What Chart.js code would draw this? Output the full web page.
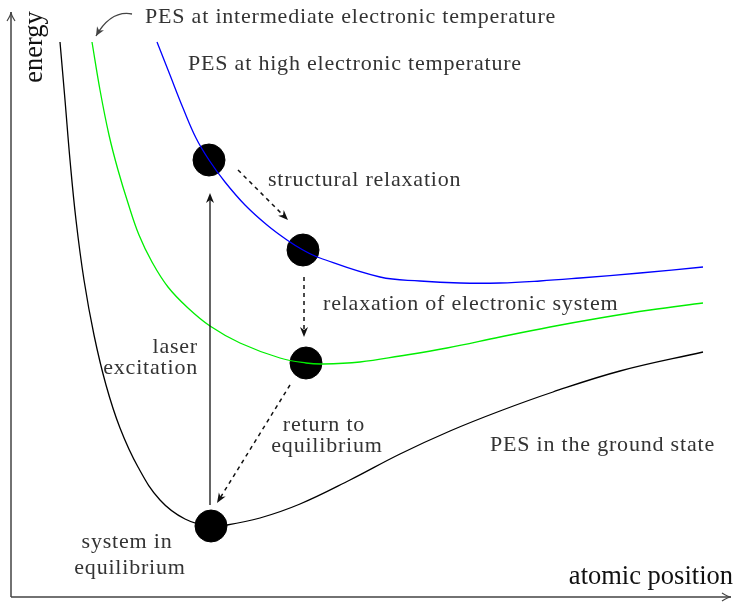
<!DOCTYPE html>
<html>
<head>
<meta charset="utf-8">
<script src="https://cdn.jsdelivr.net/npm/chart.js@4"></script>
<style>
  html, body { margin: 0; padding: 0; background: #fff; overflow: hidden; }
  canvas { display: block; }
</style>
</head>
<body>
<canvas id="pes" width="737" height="602"></canvas>
<script>
'use strict';

// ── Data (atomic position, energy) in arbitrary units ─────
const groundX = [49, 54, 59, 65, 73, 83, 95, 109, 127, 149, 174, 200, 216, 249, 289, 339, 389, 439, 489, 542, 609, 692];
const groundE = [555, 497, 437, 377, 317, 262, 212, 169, 130, 97, 78, 71, 72, 79, 93, 117, 143, 166, 186, 205, 226, 245];

const midX = [81, 89, 98, 107, 117, 128, 141, 157, 177, 199, 229, 269, 295, 312, 349, 389, 436, 489, 539, 589, 639, 692];
const midE = [555, 507, 462, 427, 394, 362, 335, 310, 289, 271, 254, 239, 234, 233, 235, 241, 249, 260, 270, 279, 287, 294];

const highX = [146, 159, 172, 185, 198, 214, 234, 256, 276, 292, 309, 369, 409, 449, 489, 529, 569, 629, 692];
const highE = [555, 522, 489, 459, 437, 415, 392, 372, 357, 347, 339, 320, 316, 314, 314, 316, 319, 324, 330];

// system states (black dots)
const stateX = [198, 292, 295, 200];
const stateE = [437, 347, 234, 71];

// transitions: [x0, e0, x1, e1, dashed]
const transitions = [
    [199, 92, 199, 404, false],   // laser excitation
    [227, 427, 277, 377, true],   // structural relaxation
    [293, 320, 293, 260, true],   // relaxation of electronic system
    [279, 212, 206, 94, true],    // return to equilibrium
];

// labels: [text, x, e, align]
const labels = [
    ['PES at intermediate electronic temperature', 134, 580, 'left'],
    ['PES at high electronic temperature', 177, 533, 'left'],
    ['structural relaxation', 257, 417, 'left'],
    ['relaxation of electronic system', 312, 293, 'left'],
    ['laser', 187, 250, 'right'],
    ['excitation', 187, 229, 'right'],
    ['return to', 313, 172, 'center'],
    ['equilibrium', 316, 151, 'center'],
    ['PES in the ground state', 479, 152, 'left'],
    ['system in', 116, 55, 'center'],
    ['equilibrium', 119, 29, 'center'],
];

const X_MAX = 720, E_MAX = 585;
const TEXT = '#333';
const LABEL_FONT = "22px 'Liberation Serif', serif";

const toXY = (xs, ys) => xs.map((x, i) => ({ x, y: ys[i] }));

// ── Arrows, axes and text plugin ──────────────────────────
function arrowHead(ctx, x0, y0, x1, y1, len, wid) {
    const a = Math.atan2(y1 - y0, x1 - x0);
    ctx.beginPath();
    ctx.moveTo(x1, y1);
    ctx.lineTo(x1 - len * Math.cos(a) + wid * Math.sin(a), y1 - len * Math.sin(a) - wid * Math.cos(a));
    ctx.lineTo(x1 - len * 0.7 * Math.cos(a), y1 - len * 0.7 * Math.sin(a));
    ctx.lineTo(x1 - len * Math.cos(a) - wid * Math.sin(a), y1 - len * Math.sin(a) + wid * Math.cos(a));
    ctx.closePath();
    ctx.fill();
}

function openHead(ctx, x1, y1, ang, len, wid) {
    ctx.beginPath();
    ctx.moveTo(x1 - len * Math.cos(ang) + wid * Math.sin(ang), y1 - len * Math.sin(ang) - wid * Math.cos(ang));
    ctx.quadraticCurveTo(x1 - len * 0.3 * Math.cos(ang), y1 - len * 0.3 * Math.sin(ang), x1, y1);
    ctx.quadraticCurveTo(x1 - len * 0.3 * Math.cos(ang), y1 - len * 0.3 * Math.sin(ang),
        x1 - len * Math.cos(ang) - wid * Math.sin(ang), y1 - len * Math.sin(ang) + wid * Math.cos(ang));
    ctx.stroke();
}

const sketchPlugin = {
    id: 'sketch',
    afterDatasetsDraw(chart) {
        const { ctx, chartArea: ca, scales: { x, y } } = chart;
        ctx.save();

        // axes with open arrowheads
        ctx.strokeStyle = '#444';
        ctx.lineWidth = 1.5;
        ctx.beginPath();
        ctx.moveTo(ca.left, ca.bottom);
        ctx.lineTo(ca.right, ca.bottom);
        ctx.moveTo(ca.left, ca.bottom);
        ctx.lineTo(ca.left, ca.top);
        ctx.stroke();
        ctx.lineWidth = 1.2;
        openHead(ctx, ca.right, ca.bottom, 0, 9, 4);
        openHead(ctx, ca.left, ca.top, -Math.PI / 2, 9, 4);

        // transitions
        ctx.strokeStyle = '#111';
        ctx.fillStyle = '#111';
        transitions.forEach(([x0, e0, x1, e1, dashed]) => {
            const px0 = x.getPixelForValue(x0), py0 = y.getPixelForValue(e0);
            const px1 = x.getPixelForValue(x1), py1 = y.getPixelForValue(e1);
            const a = Math.atan2(py1 - py0, px1 - px0);
            ctx.lineWidth = dashed ? 1.5 : 1.3;
            ctx.setLineDash(dashed ? [4, 4] : []);
            ctx.beginPath();
            ctx.moveTo(px0, py0);
            ctx.lineTo(px1 - 6 * Math.cos(a), py1 - 6 * Math.sin(a));
            ctx.stroke();
            ctx.setLineDash([]);
            arrowHead(ctx, px0, py0, px1, py1, 10, 4);
        });

        // curved pointer to the intermediate PES
        const cx0 = x.getPixelForValue(121), cy0 = y.getPixelForValue(583);
        const cx1 = x.getPixelForValue(85), cy1 = y.getPixelForValue(561);
        const ccx = x.getPixelForValue(100), ccy = y.getPixelForValue(587);
        ctx.strokeStyle = '#444';
        ctx.fillStyle = '#444';
        ctx.lineWidth = 1.3;
        ctx.beginPath();
        ctx.moveTo(cx0, cy0);
        ctx.quadraticCurveTo(ccx, ccy, cx1, cy1);
        ctx.stroke();
        arrowHead(ctx, ccx, ccy, cx1, cy1, 9, 4);

        // labels
        ctx.fillStyle = TEXT;
        ctx.font = LABEL_FONT;
        ctx.letterSpacing = '0.8px';
        ctx.textBaseline = 'middle';
        labels.forEach(([t, lx, le, al]) => {
            ctx.textAlign = al;
            ctx.fillText(t, x.getPixelForValue(lx), y.getPixelForValue(le));
        });
        ctx.letterSpacing = '0px';

        // axis titles
        ctx.fillStyle = '#111';
        ctx.font = "26.5px 'Liberation Serif', serif";
        ctx.textAlign = 'right';
        ctx.fillText('atomic position', ca.right + 2, y.getPixelForValue(20));
        ctx.save();
        ctx.translate(x.getPixelForValue(24), y.getPixelForValue(550));
        ctx.rotate(-Math.PI / 2);
        ctx.textAlign = 'center';
        ctx.fillText('energy', 0, 0);
        ctx.restore();

        ctx.restore();
    }
};

// ── Chart ────────────────────────────────────────────────
const lineDs = (label, xs, ys, color) => ({
    label, data: toXY(xs, ys), borderColor: color, borderWidth: 1.3,
    pointRadius: 0, fill: false, tension: 0.4,
});

new Chart(document.getElementById('pes').getContext('2d'), {
    type: 'line',
    data: {
        datasets: [
            lineDs('PES in the ground state', groundX, groundE, '#000'),
            lineDs('PES at intermediate electronic temperature', midX, midE, '#00ee00'),
            lineDs('PES at high electronic temperature', highX, highE, '#0000ff'),
            {
                label: 'states', type: 'scatter', data: toXY(stateX, stateE),
                pointRadius: 16, pointHoverRadius: 16,
                backgroundColor: '#000', borderColor: '#000', showLine: false,
            },
        ]
    },
    options: {
        responsive: false, animation: false,
        layout: { autoPadding: false, padding: { left: 11, right: 6, top: 12, bottom: 5 } },
        plugins: { legend: { display: false }, tooltip: { enabled: false } },
        scales: {
            x: { type: 'linear', min: 0, max: X_MAX, display: false },
            y: { type: 'linear', min: 0, max: E_MAX, display: false }
        }
    },
    plugins: [sketchPlugin]
});
</script>
</body>
</html>
